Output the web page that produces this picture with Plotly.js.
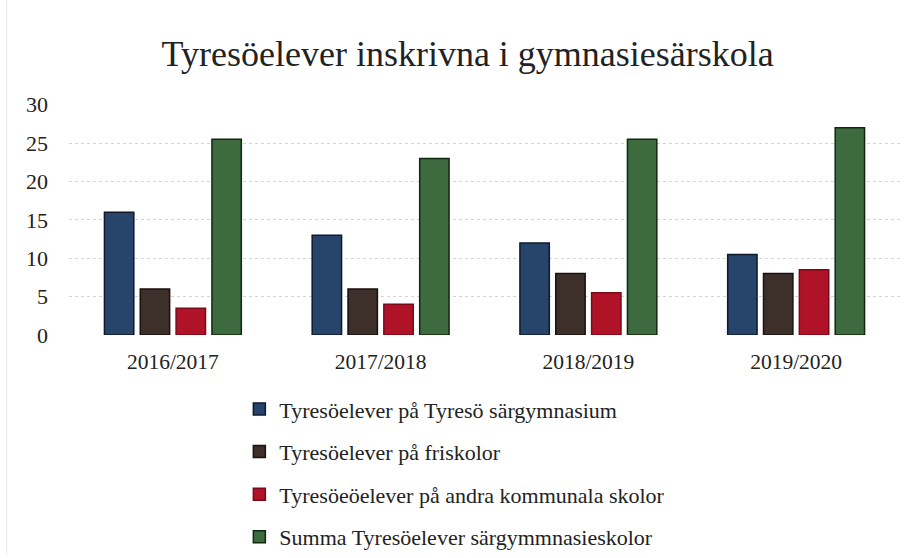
<!DOCTYPE html>
<html>
<head>
<meta charset="utf-8">
<script src="https://cdn.plot.ly/plotly-3.0.1.min.js"></script>
<style>html,body{margin:0;padding:0;background:#fff;}#chart{width:917px;height:558px;}</style>
</head>
<body>
<div id="chart"></div>
<script>
const categories = ["2016/2017", "2017/2018", "2018/2019", "2019/2020"];
const seriesNames = [
  "Tyresöelever på Tyresö särgymnasium",
  "Tyresöelever på friskolor",
  "Tyresöeöelever på andra kommunala skolor",
  "Summa Tyresöelever särgymmnasieskolor"
];
const sargymnasium = [16, 13, 12, 10.5];
const friskolor = [6, 6, 8, 8];
const andraKommunala = [3.5, 4, 5.5, 8.5];
const summa = [25.5, 23, 25.5, 27];
const yTicks = [0, 5, 10, 15, 20, 25, 30];

const values = [sargymnasium, friskolor, andraKommunala, summa];
const fills = ["#27446b", "#3d2f2a", "#b01228", "#3d6a3f"];
const edges = ["#0e1a2c", "#1a1210", "#7a0a18", "#10280f"];

const traces = values.map((v, i) => ({
  type: "bar",
  x: categories,
  y: v,
  name: seriesNames[i],
  legendgroup: "g" + i,
  marker: {color: fills[i], line: {color: edges[i], width: 1.5}},
  hoverinfo: "x+y+name"
}));

const layout = {
  width: 917,
  height: 558,
  paper_bgcolor: "#ffffff",
  plot_bgcolor: "#ffffff",
  font: {family: "Liberation Serif, Times New Roman, serif", color: "#222222", size: 22},
  title: {
    text: "Tyresöelever inskrivna i gymnasiesärskola",
    font: {family: "Liberation Serif, Times New Roman, serif", size: 36, color: "#222222"},
    x: 0.51, xanchor: "center",
    y: 0.905, yanchor: "middle"
  },
  margin: {l: 69, r: 17, t: 104, b: 223, autoexpand: false},
  barmode: "group",
  bargap: 0.31,
  bargroupgap: 0.18,
  xaxis: {
    type: "category",
    showgrid: false,
    showline: false,
    zeroline: false,
    ticks: "",
    tickfont: {size: 21.5},
    ticklabelstandoff: 11
  },
  yaxis: {
    range: [0, 30.1],
    tickvals: yTicks,
    showgrid: true,
    gridcolor: "#d4d4d4",
    griddash: "dot",
    gridwidth: 1,
    zeroline: false,
    showline: false,
    ticks: "",
    tickfont: {size: 22},
    ticklabelstandoff: 20
  },
  showlegend: true,
  legend: {
    orientation: "v",
    x: 0.205, xanchor: "left",
    y: -0.23, yanchor: "top",
    font: {size: 22},
    tracegroupgap: 11,
    traceorder: "grouped",
    itemwidth: 30
  },
  shapes: [{
    type: "line", xref: "paper", yref: "paper",
    x0: -0.075, x1: -0.075, y0: -0.95, y1: 1.45,
    line: {color: "#e6e6e6", width: 1}
  }]
};

Plotly.newPlot("chart", traces, layout, {displayModeBar: false, staticPlot: true});
</script>
</body>
</html>
